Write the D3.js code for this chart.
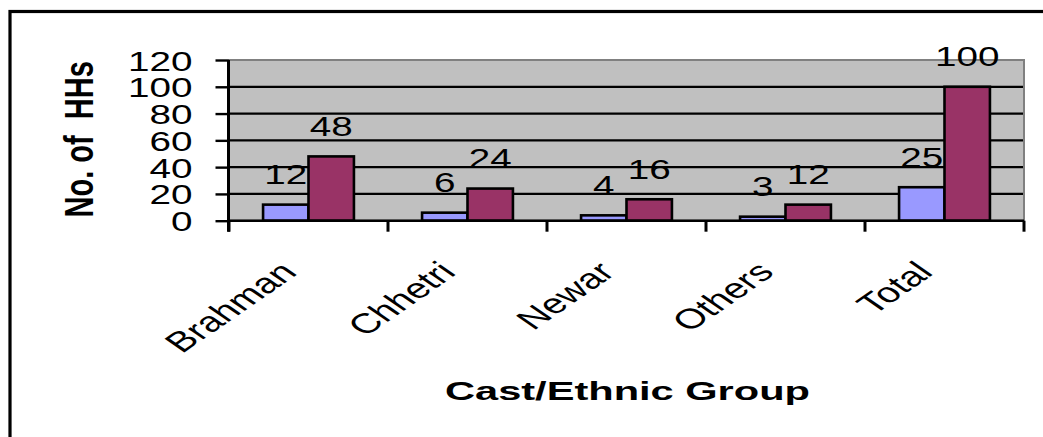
<!DOCTYPE html>
<html>
<head>
<meta charset="utf-8">
<script src="https://cdn.jsdelivr.net/npm/d3@7"></script>
<style>
  html, body { margin: 0; padding: 0; background: #fff; }
  svg { display: block; }
  text { font-family: "Liberation Sans", Arial, sans-serif; fill: #000; }
</style>
</head>
<body>
<svg id="chart" width="1043" height="437"></svg>
<script>
// Households by caste / ethnic group, two series per group
const categories = ["Brahman", "Chhetri", "Newar", "Others", "Total"];
const seriesNames = ["A", "B"];
const seriesA = [12, 6, 4, 3, 25];
const seriesB = [48, 24, 16, 12, 100];
const yTicks = [0, 20, 40, 60, 80, 100, 120];
const seriesColors = ["#9999FF", "#993366"];
const yTitle = "No. of  HHs";
const xTitle = "Cast/Ethnic Group";

const SX = 1.38;          // horizontal stretch of the lettering
const SXL = 1.45;         // stretch of the slanted category labels
const FS = 28;            // body font size

const svg = d3.select("#chart");

// outer frame (runs off the right and bottom edges)
svg.append("rect")
  .attr("x", 10).attr("y", 11.5)
  .attr("width", 1100).attr("height", 500)
  .attr("fill", "#fff").attr("stroke", "#000").attr("stroke-width", 3.2);

const plot = { left: 229, right: 1024, top: 60, bottom: 220.7 };

const x0 = d3.scaleBand().domain(categories).range([plot.left, plot.right]).padding(0);
const x1 = d3.scaleBand().domain(seriesNames).range([0, x0.bandwidth()])
  .paddingInner(0).paddingOuter(0.75);
const y = d3.scaleLinear().domain([0, 120]).range([plot.bottom, plot.top]);
const color = d3.scaleOrdinal().domain(seriesNames).range(seriesColors);

// plot area
svg.append("rect")
  .attr("x", plot.left).attr("y", plot.top)
  .attr("width", plot.right - plot.left).attr("height", plot.bottom - plot.top)
  .attr("fill", "#C0C0C0").attr("stroke", "#808080").attr("stroke-width", 2);

// gridlines
svg.append("g").selectAll("line")
  .data(yTicks.filter(v => v > 0 && v < 120))
  .join("line")
  .attr("x1", plot.left).attr("x2", plot.right - 1)
  .attr("y1", d => y(d)).attr("y2", d => y(d))
  .attr("stroke", "#000").attr("stroke-width", 2.2);

// bars
const rows = categories.map((c, i) => ({ cat: c, vals: [seriesA[i], seriesB[i]] }));
const groups = svg.append("g").selectAll("g")
  .data(rows).join("g")
  .attr("transform", d => `translate(${x0(d.cat)},0)`);

groups.selectAll("rect")
  .data(d => d.vals.map((v, k) => ({ key: seriesNames[k], v })))
  .join("rect")
  .attr("x", d => x1(d.key))
  .attr("y", d => y(d.v))
  .attr("width", x1.bandwidth())
  .attr("height", d => y(0) - y(d.v))
  .attr("fill", d => color(d.key))
  .attr("stroke", "#000").attr("stroke-width", 2.6);

// value labels
groups.selectAll("text.val")
  .data(d => d.vals.map((v, k) => ({ key: seriesNames[k], v })))
  .join("text")
  .attr("class", "val")
  .attr("text-anchor", "middle")
  .attr("font-size", FS)
  .attr("transform", d => `translate(${x1(d.key) + x1.bandwidth() / 2},${y(d.v) - 20.5}) scale(${SX},1)`)
  .text(d => d.v);

// y axis
const yAxis = svg.append("g")
  .attr("transform", `translate(${plot.left - 0.5},0)`)
  .call(d3.axisLeft(y).tickValues(yTicks).tickSize(13).tickSizeOuter(0));
yAxis.select(".domain").attr("stroke", "#000").attr("stroke-width", 3)
  .attr("d", `M0,${y(120)}V${y(0) + 11}`);
yAxis.selectAll(".tick line").attr("stroke", "#000").attr("stroke-width", 2.4);
yAxis.selectAll(".tick text")
  .attr("x", null).attr("dy", null)
  .attr("font-size", FS).attr("font-family", null)
  .attr("text-anchor", "end")
  .attr("transform", `translate(-36,10) scale(${SX},1)`);

// x axis: baseline plus ticks at the group boundaries
const xAxis = svg.append("g")
  .attr("transform", `translate(0,${plot.bottom})`)
  .call(d3.axisBottom(x0).tickSize(0).tickSizeOuter(0));
xAxis.select(".domain").attr("stroke", "#000").attr("stroke-width", 2.4)
  .attr("d", `M${plot.left},0H${plot.right}`);
xAxis.selectAll(".tick text")
  .attr("y", null).attr("dy", null)
  .attr("font-size", FS).attr("font-family", null)
  .attr("text-anchor", "end")
  .attr("transform", `translate(-10,53) scale(${SXL},1) rotate(-45)`);

const bounds = categories.map(c => x0(c)).concat([x0.range()[1]]);
xAxis.append("g").selectAll("line")
  .data(bounds).join("line")
  .attr("x1", d => d).attr("x2", d => d)
  .attr("y1", 0).attr("y2", 11)
  .attr("stroke", "#000").attr("stroke-width", 3);

// axis titles
svg.append("text")
  .attr("font-size", 29).attr("font-weight", "bold")
  .attr("text-anchor", "middle")
  .style("white-space", "pre")
  .attr("transform", `translate(93,${(plot.top + plot.bottom) / 2 - 1}) scale(${SX},1) rotate(-90)`)
  .text(yTitle);

svg.append("text")
  .attr("font-size", 26).attr("font-weight", "bold")
  .attr("x", 445).attr("y", 400)
  .attr("textLength", 365).attr("lengthAdjust", "spacingAndGlyphs")
  .text(xTitle);
</script>
</body>
</html>
